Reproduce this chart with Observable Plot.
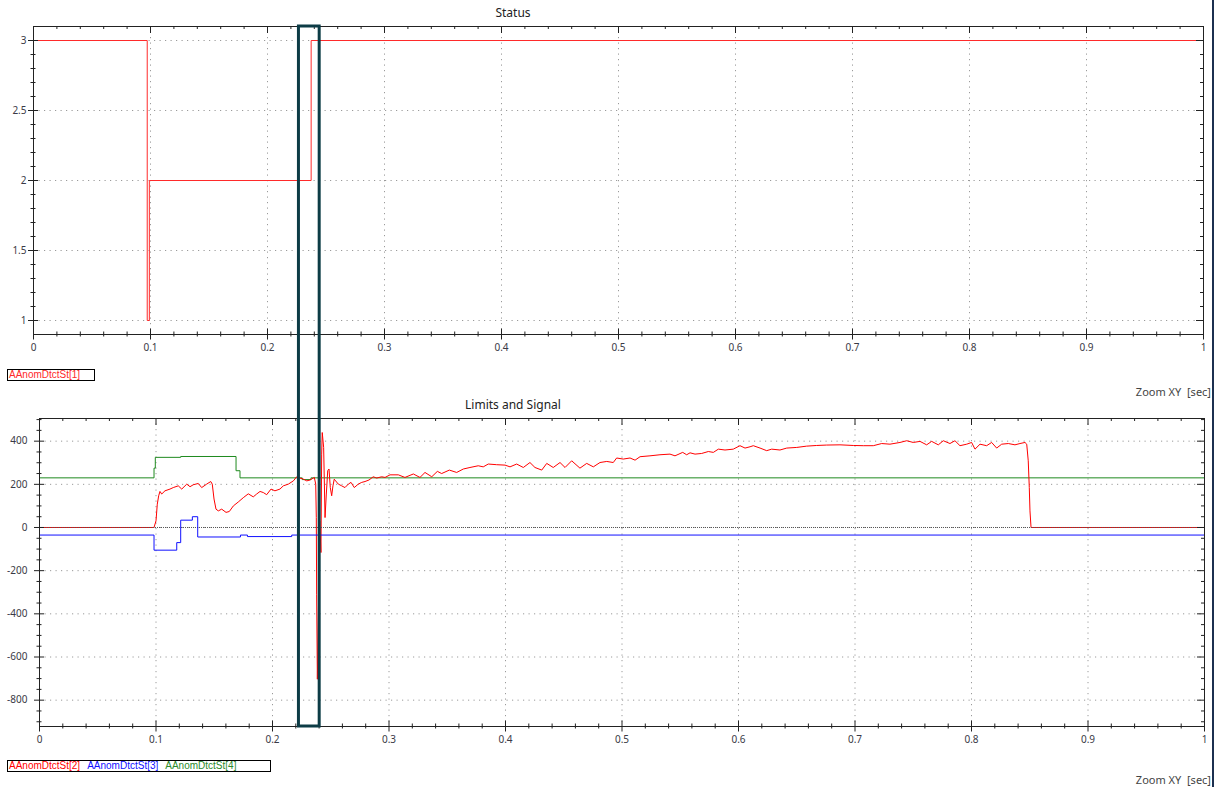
<!DOCTYPE html>
<html><head><meta charset="utf-8">
<script src="https://cdn.jsdelivr.net/npm/d3@7"></script>
<script src="https://cdn.jsdelivr.net/npm/@observablehq/plot@0.6"></script>
<style>
html,body{margin:0;padding:0;background:#fff;}
#root{position:relative;width:1215px;height:787px;overflow:hidden;font-family:"Noto Sans",sans-serif;}
#root > *{position:absolute;}
.title{font-size:12px;color:#222;transform:translateX(-50%);white-space:nowrap;line-height:14px;}
.zoom{font-size:11px;color:#444;white-space:nowrap;line-height:13px;text-align:right;}
.legend{border:1px solid #000;box-sizing:border-box;font-family:"Liberation Sans",Arial,sans-serif;font-size:10px;line-height:10px;white-space:nowrap;padding-left:1px;}
.legend span{margin-right:7px;}
</style></head><body><div id="root"></div><script>
// ---------- data ----------
const xTicks = [0,0.1,0.2,0.3,0.4,0.5,0.6,0.7,0.8,0.9,1];
const xMinorTicks = d3.range(0, 50).map(i => i*0.02).filter((d,i) => i % 5 !== 0);

// Status chart
const statusTitle = "Status";
const statusYTicks = [1,1.5,2,2.5,3];
const statusYMinor = d3.range(10,31).map(i => i/10).filter(d => !statusYTicks.includes(d));
const statusYDomain = [0.9, 3.1];
const statusT = [0, 0.0972, 0.0990, 0.2373, 1];
const statusV = [3, 1, 2, 3, 3];
const statusLegend = ["AAnomDtctSt[1]"];

// Limits and Signal chart
const signalTitle = "Limits and Signal";
const signalYTicks = [-800,-600,-400,-200,0,200,400];
const signalYMinor = d3.range(-900, 501, 50).filter(d => !signalYTicks.includes(d));
const signalYDomain = [-922, 505];
const signalLegend = ["AAnomDtctSt[2]","AAnomDtctSt[3]","AAnomDtctSt[4]"];

const signalT = [0,0.0983,0.1000,0.1011,0.1023,0.1034,0.1049,0.1077,0.1120,0.1148,0.1191,0.1221,0.1264,0.1292,0.1320,0.1363,0.1392,0.1435,0.1470,0.1483,0.1498,0.1515,0.1535,0.1564,0.1601,0.1629,0.1664,0.1706,0.1749,0.1792,0.1835,0.1864,0.1893,0.1921,0.1950,0.1987,0.2021,0.2064,0.2093,0.2136,0.2179,0.2208,0.2236,0.2265,0.2294,0.2322,0.2350,0.2359,0.2371,0.2376,0.2379,0.2385,0.2393,0.2405,0.2416,0.2422,0.2427,0.2439,0.2451,0.2462,0.2474,0.2485,0.2496,0.2508,0.2519,0.2530,0.2542,0.2565,0.2594,0.2622,0.2651,0.2674,0.2702,0.2736,0.2766,0.2794,0.2828,0.2865,0.2894,0.2937,0.2966,0.3009,0.3080,0.3137,0.3209,0.3266,0.3309,0.3367,0.3415,0.3452,0.3518,0.3581,0.3638,0.3695,0.3766,0.3809,0.3852,0.3924,0.3996,0.4039,0.4096,0.4153,0.4210,0.4253,0.4311,0.4354,0.4410,0.4468,0.4511,0.4568,0.4639,0.4697,0.4754,0.4811,0.4869,0.4925,0.4954,0.5011,0.5069,0.5112,0.5155,0.5240,0.5326,0.5412,0.5455,0.5521,0.5555,0.5584,0.5627,0.5684,0.5741,0.5784,0.5827,0.5884,0.5955,0.6013,0.6056,0.6099,0.6127,0.6185,0.6242,0.6285,0.6356,0.6414,0.6500,0.6585,0.6671,0.6757,0.6871,0.6985,0.7071,0.7157,0.7229,0.7300,0.7386,0.7444,0.7500,0.7558,0.7615,0.7658,0.7715,0.7758,0.7815,0.7858,0.7901,0.7959,0.8001,0.8030,0.8073,0.8130,0.8173,0.8216,0.8259,0.8316,0.8373,0.8416,0.8459,0.8474,0.8487,0.8496,0.8502,0.8511,1];
const signalV = [0,0,31,108,147,167,155,170,178,185,193,178,201,189,198,204,185,201,213,201,132,85,77,85,70,74,100,118,138,156,142,155,167,162,152,178,170,178,193,201,216,235,229,224,216,220,229,232,201,46,-309,-703,-433,31,-116,340,440,371,46,155,263,271,185,147,193,224,216,201,193,185,201,209,185,201,209,213,220,235,229,235,232,244,244,232,248,232,255,235,260,250,266,255,271,278,286,281,294,291,289,281,294,278,301,278,266,297,278,301,278,309,275,297,281,301,306,301,322,317,322,312,328,332,337,340,332,348,337,346,340,343,352,348,363,359,363,379,368,374,379,368,356,363,359,368,371,377,380,382,383,380,379,379,389,386,394,402,394,399,383,399,383,402,389,402,379,386,394,363,386,379,394,368,386,389,383,389,394,386,309,185,77,0,0];

const lowerT = [0,0.0983,0.1178,0.1212,0.1312,0.1358,0.1725,0.1785,0.2165,1];
const lowerV = [-35,-105,-70,34,50,-44,-35,-42,-35,-35];

const upperT = [0,0.0983,0.0994,0.1212,0.1687,0.1721,0.2255,0.2330,1];
const upperV = [230,275,325,329,263,230,222,230,230];

const highlight = [0.2227, 0.2405]; // highlighted time window

const colors = {status:"#ff2a2a", signal:"#ff0000", lower:"#1010ff", upper:"#1f8a1f", box:"#0d3c46"};

// ---------- helpers ----------
const zip = (t, v) => t.map((d,i) => ({t: d, v: v[i]}));
const fmt = d => String(d);

function chart({width, height, mt, mb, ml, mr, yDomain, yTicks, yMinor, yPad, series}) {
  const fw = width - ml - mr, fh = height - mt - mb;
  const grid = {stroke:"#9a9a9a", strokeOpacity:1, strokeDasharray:"1.2,4.3", strokeWidth:1};
  const tk = {stroke:"#222", strokeWidth:1};
  return Plot.plot({
    width, height, marginTop: mt, marginBottom: mb, marginLeft: ml, marginRight: mr,
    style: {fontFamily: "Noto Sans, sans-serif", background: "white"},
    x: {domain: [0,1]},
    y: {domain: yDomain},
    marks: [
      Plot.gridX(xTicks, grid),
      Plot.gridY(yTicks, grid),
      ...series,
      Plot.frame({stroke:"#222"}),
      Plot.ruleX(xMinorTicks, {x: d => d, insetTop: fh - 2.5, insetBottom: -2.5, ...tk}),
      Plot.ruleX(xTicks, {x: d => d, insetTop: fh - 5.5, insetBottom: -5.5, ...tk}),
      Plot.ruleX(xMinorTicks, {x: d => d, insetBottom: fh - 3, ...tk}),
      Plot.ruleX(xTicks, {x: d => d, insetBottom: fh - 7, ...tk}),
      Plot.ruleY(yMinor, {y: d => d, insetRight: fw - 2.5, insetLeft: -2.5, ...tk}),
      Plot.ruleY(yTicks, {y: d => d, insetRight: fw - 5, insetLeft: -5, ...tk}),
      Plot.ruleY(yMinor, {y: d => d, insetLeft: fw - 3, ...tk}),
      Plot.ruleY(yTicks, {y: d => d, insetLeft: fw - 7, ...tk}),
      Plot.axisX(xTicks, {tickSize: 0, tickPadding: 9, tickFormat: fmt, fontSize: 10, fill: "#3a3a46", label: null}),
      Plot.axisY(yTicks, {tickSize: 0, tickPadding: yPad, tickFormat: fmt, fontSize: 10, fill: "#3a3a46", label: null})
    ]
  });
}

const root = document.getElementById("root");
function add(el, left, top) { el.style.left = left + "px"; el.style.top = top + "px"; root.appendChild(el); return el; }
function div(cls, html) { const e = document.createElement("div"); e.className = cls; e.innerHTML = html; return e; }

// ---------- top chart ----------
const topTop = 0;
const topPlot = chart({
  width: 1215, height: 364, mt: 26, mb: 30, ml: 33, mr: 12,
  yDomain: statusYDomain, yTicks: statusYTicks, yMinor: statusYMinor, yPad: 7,
  series: [
    Plot.line(zip(statusT, statusV), {x: "t", y: "v", curve: "step-after", stroke: colors.status, strokeWidth: 1})
  ]
});
add(topPlot, 0, topTop);

// ---------- bottom chart ----------
const botTop = 390;
const botPlot = chart({
  width: 1215, height: 366, mt: 28, mb: 30, ml: 39, mr: 11,
  yDomain: signalYDomain, yTicks: signalYTicks, yMinor: signalYMinor, yPad: 12,
  series: [
    Plot.line(zip(upperT, upperV), {x: "t", y: "v", curve: "step-after", stroke: colors.upper, strokeWidth: 1}),
    Plot.line(zip(signalT, signalV), {x: "t", y: "v", stroke: colors.signal, strokeWidth: 1}),
    Plot.ruleY([0], {stroke: "#555", strokeDasharray: "1,1", strokeWidth: 1}),
    Plot.line(zip(lowerT, lowerV), {x: "t", y: "v", curve: "step-after", stroke: colors.lower, strokeWidth: 1})
  ]
});
add(botPlot, 0, botTop);

// ---------- texts ----------
add(div("title", statusTitle), 513, 6);
add(div("title", signalTitle), 513, 398);
const z1 = add(div("zoom", "Zoom XY&nbsp; [sec]"), 1100, 385); z1.style.width = "111px";
const z2 = add(div("zoom", "Zoom XY&nbsp; [sec]"), 1100, 773); z2.style.width = "111px";

const leg1 = add(div("legend", statusLegend.map(s => `<span style="color:${colors.status}">${s}</span>`).join("")), 7, 369);
leg1.style.width = "88px"; leg1.style.height = "12px";
const legCols = [colors.signal, colors.lower, "#2a8a2a"];
const leg2 = add(div("legend", signalLegend.map((s,i) => `<span style="color:${legCols[i]}">${s}</span>`).join("")), 7, 760);
leg2.style.width = "264px"; leg2.style.height = "12px";

// ---------- highlight box overlay ----------
const xs = botPlot.scale("x");
const ys1 = topPlot.scale("y"), ys2 = botPlot.scale("y");
const bx1 = xs.apply(highlight[0]), bx2 = xs.apply(highlight[1]);
const by1 = topTop + ys1.apply(statusYDomain[1]);
const by2 = botTop + ys2.apply(signalYDomain[0]);
const ns = "http://www.w3.org/2000/svg";
const ov = document.createElementNS(ns, "svg");
ov.setAttribute("width", 1215); ov.setAttribute("height", 787);
ov.style.left = "0px"; ov.style.top = "0px";
const r = document.createElementNS(ns, "rect");
r.setAttribute("x", bx1); r.setAttribute("y", by1);
r.setAttribute("width", bx2 - bx1); r.setAttribute("height", by2 - by1);
r.setAttribute("fill", "none"); r.setAttribute("stroke", colors.box); r.setAttribute("stroke-width", 3);
ov.appendChild(r);
const edge = document.createElementNS(ns, "line");
edge.setAttribute("x1", 1213); edge.setAttribute("x2", 1213); edge.setAttribute("y1", 0); edge.setAttribute("y2", 787);
edge.setAttribute("stroke", "#1c3050"); edge.setAttribute("stroke-width", 2);
ov.appendChild(edge);
root.appendChild(ov);
</script></body></html>
